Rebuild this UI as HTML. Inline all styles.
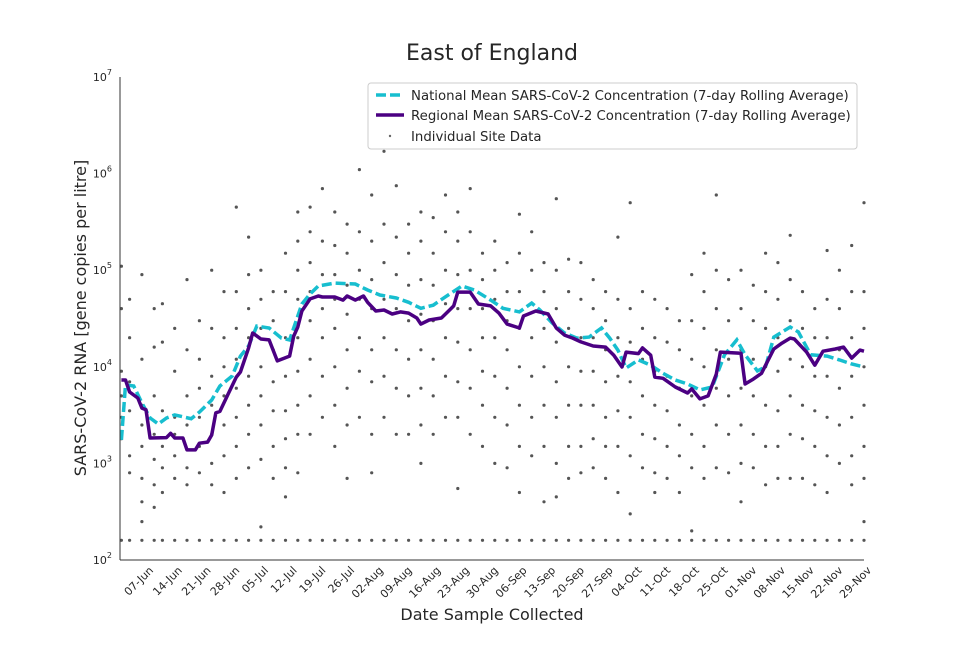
<!DOCTYPE html>
<html><head><meta charset="utf-8"><style>
body{margin:0;background:#fff;font-family:"Liberation Sans","DejaVu Sans",sans-serif}
svg text{font-family:"DejaVu Sans","Liberation Sans",sans-serif;fill:#262626}
</style></head><body>
<svg id="chart" width="960" height="640" viewBox="0 0 960 640" xmlns="http://www.w3.org/2000/svg">
<text x="492" y="60" text-anchor="middle" font-size="22">East of England</text>
<g id="scatter"></g>
<g id="lines"></g>
<g id="axes"></g>
<text transform="translate(86,318) rotate(-90)" text-anchor="middle" font-size="16">SARS-CoV-2 RNA [gene copies per litre]</text>
<text x="492" y="620" text-anchor="middle" font-size="16">Date Sample Collected</text>
<g>
<rect x="368" y="83" width="489" height="66" rx="3" fill="#fff" fill-opacity="0.85" stroke="#ccc"/>
<g><line x1="376" y1="95" x2="404" y2="95" stroke="#17becf" stroke-width="3.5" stroke-dasharray="10,4"/><text x="411" y="100" font-size="13.3">National Mean SARS-CoV-2 Concentration (7-day Rolling Average)</text></g>
<g><line x1="376" y1="115" x2="404" y2="115" stroke="#4b0082" stroke-width="3.5"/><text x="411" y="120" font-size="13.3">Regional Mean SARS-CoV-2 Concentration (7-day Rolling Average)</text></g>
<g><circle cx="390" cy="136" r="1.2" fill="#666"/><text x="411" y="141" font-size="13.3">Individual Site Data</text></g>
</g>
</svg>
<script>
const tickLabels = ["07-Jun","14-Jun","21-Jun","28-Jun","05-Jul","12-Jul","19-Jul","26-Jul","02-Aug","09-Aug","16-Aug","23-Aug","30-Aug","06-Sep","13-Sep","20-Sep","27-Sep","04-Oct","11-Oct","18-Oct","25-Oct","01-Nov","08-Nov","15-Nov","22-Nov","29-Nov"];
const tickDays = [6,13,20,27,34,41,48,55,62,69,76,83,90,97,104,111,118,125,132,139,146,153,160,167,174,181];
const yTickExps = [2,3,4,5,6,7];
const regionalDays = [0,1,2,4,5,6,7,11,12,13,15,16,18,19,21,22,23,24,26,28,29,31,32,34,36,38,41,42,43,44,46,48,49,52,54,55,57,59,60,62,64,66,68,70,72,73,75,78,80,81,82,85,87,90,92,94,97,98,101,104,106,108,110,112,115,118,120,122,123,126,127,129,130,132,135,138,139,141,143,145,146,151,152,154,156,159,161,163,164,167,169,171,174,176,178,180,181];
const regionalValues = [7300,7300,5480,4750,3740,3600,1830,1850,2050,1830,1830,1380,1380,1620,1660,1970,3330,3450,5220,7830,8830,15700,22400,19400,19000,11500,12900,20800,25800,37800,50400,54100,52800,52800,49000,54100,49000,54100,46500,37800,38700,35200,37000,36000,32000,27700,30500,32000,38700,42700,59400,59400,44700,42700,36000,27700,25200,33600,37800,35200,25200,21300,19800,18100,16400,16000,13200,9950,14200,13700,15700,13200,7830,7600,6180,5360,5900,4650,5000,8410,14200,13800,6640,7450,8560,15300,17600,19800,19400,14200,10400,14500,15300,16000,12300,14900,14500];
const nationalDays = [0,1,3,5,7,9,11,13,15,17,19,22,24,27,29,31,33,36,39,41,44,46,48,52,57,60,63,67,70,73,76,79,83,86,90,93,97,100,102,105,108,111,114,117,119,121,123,126,129,132,135,138,141,144,147,150,152,155,157,159,163,165,168,172,175,178,181];
const nationalValues = [1750,6490,6330,4220,2950,2560,2950,3180,3040,2900,3400,4530,6330,8030,12900,16400,26400,25200,19800,19000,44700,56700,68600,73600,72000,62400,55400,51600,46500,40300,43400,53000,68600,62400,49000,40300,37000,45700,38700,28400,22400,19800,20300,25200,19800,14900,9720,11800,10400,8560,7300,6640,5770,6180,13300,19000,13300,9060,10000,20300,25800,22900,13300,12900,11800,10700,9950];
const siteDays = [0,2,5,8,10,13,16,19,22,25,28,31,34,37,40,43,46,49,52,55,58,61,64,67,70,73,76,79,82,85,88,91,94,97,100,103,106,109,112,115,118,121,124,127,130,133,136,139,142,145,148,151,154,157,160,163,166,169,172,175,178,181];
const siteValues = [
[110000,40000,9000,5000,3000,1800,160],[50000,20000,7000,3500,1200,800,160],[90000,12000,4000,2500,1500,700,400,250,160],[40000,16000,5000,2000,1100,600,350,160],[45000,18000,3500,1500,900,500,160],[25000,9000,3000,2000,1200,700,160],[80000,15000,5000,2500,1400,900,600,160],[30000,12000,6000,3000,1500,800,160],[100000,25000,8000,4000,2000,1000,600,160],[60000,20000,10000,5000,2500,1200,500,160],
[450000,60000,25000,12000,6000,3000,1500,700,160],[220000,90000,40000,20000,8000,4000,2000,900,160],[100000,50000,25000,10000,5000,2500,1100,220,160],[60000,30000,15000,7000,3500,1500,700,160],[150000,60000,20000,8000,3500,1800,900,450,160],[400000,200000,100000,50000,20000,9000,4000,2000,800,160],[450000,250000,120000,60000,30000,12000,5000,2000,160],[700000,200000,90000,40000,20000,8000,3000,160],[400000,180000,90000,50000,25000,10000,4000,1500,160],[300000,150000,70000,35000,15000,6000,2500,700,160],
[1100000,250000,100000,50000,20000,9000,3000,160],[600000,200000,80000,40000,15000,7000,2000,800,160],[1700000,300000,120000,50000,20000,8000,3000,160],[750000,220000,90000,40000,15000,6000,2000,160],[300000,150000,70000,30000,12000,5000,2000,160],[400000,200000,80000,35000,15000,6000,2500,1000,160],[350000,150000,70000,30000,12000,5000,2000,160],[600000,250000,100000,45000,20000,8000,3000,160],[400000,200000,90000,40000,18000,7000,3000,550,160],[700000,250000,100000,40000,15000,6000,2000,160],
[150000,80000,40000,20000,9000,4000,1500,160],[200000,100000,50000,20000,8000,3000,1000,160],[120000,60000,30000,15000,6000,2500,900,160],[380000,150000,60000,25000,10000,4000,1500,500,160],[250000,100000,45000,20000,8000,3000,1200,160],[120000,60000,25000,10000,4000,1500,400,160],[550000,100000,40000,18000,7000,3000,1000,450,160],[130000,60000,25000,10000,4000,1500,700,160],[120000,50000,20000,9000,4000,1500,800,160],[80000,40000,20000,9000,4000,1800,900,160],
[60000,30000,15000,7000,3000,1500,700,160],[220000,50000,20000,8000,3500,1500,500,160],[500000,40000,18000,7000,3000,1200,300,160],[60000,25000,12000,5000,2000,900,160],[50000,20000,9000,4000,1800,800,500,160],[40000,18000,8000,3500,1500,700,160],[30000,15000,6000,2500,1200,500,160],[90000,30000,12000,5000,2000,900,200,160],[150000,60000,25000,10000,4000,1500,700,160],[600000,100000,40000,15000,6000,2500,900,160],
[80000,30000,12000,5000,2000,800,160],[100000,40000,15000,6000,2500,1000,400,160],[70000,30000,12000,5000,2000,900,160],[150000,60000,25000,10000,4000,1500,600,160],[120000,50000,20000,9000,3500,1500,700,160],[230000,80000,30000,12000,5000,2000,700,160],[60000,25000,10000,4000,1800,700,160],[40000,20000,8000,3500,1500,600,160],[160000,50000,20000,8000,3000,1200,500,160],[100000,40000,15000,6000,2500,1000,160],
[180000,60000,20000,8000,3000,1200,600,160],[500000,60000,25000,10000,4000,1500,700,250,160]];

const NS="http://www.w3.org/2000/svg";
const X0=121.4, PXD=4.103, YB=560, DEC=96.6, XL=120, XR=864;
function xS(d){return X0+d*PXD;}
function yS(v){return YB-(Math.log10(v)-2)*DEC;}
function mk(tag,attrs,parent){const e=document.createElementNS(NS,tag);for(const k in attrs)e.setAttribute(k,attrs[k]);parent.appendChild(e);return e;}

const sc=document.getElementById('scatter');
siteDays.forEach((d,i)=>{siteValues[i].forEach((v,j)=>{
  const c=mk('circle',{cx:xS(d).toFixed(1),cy:yS(v).toFixed(1),r:1.6,fill:'#555'},sc);
  
  
});});

const lg=document.getElementById('lines');
function path(days,vals){return days.map((d,i)=>(i?'L':'M')+xS(d).toFixed(1)+','+yS(vals[i]).toFixed(1)).join(' ');}
const nat=mk('path',{d:path(nationalDays,nationalValues),fill:'none',stroke:'#17becf',"stroke-width":3.5,"stroke-dasharray":"10,4"},lg);


const reg=mk('path',{d:path(regionalDays,regionalValues),fill:'none',stroke:'#4b0082',"stroke-width":3.5,"stroke-linejoin":"round"},lg);



const ax=document.getElementById('axes');
const yl=mk('line',{x1:XL,y1:77,x2:XL,y2:YB,stroke:'#333',"stroke-width":1},ax);


const xl=mk('line',{x1:XL,y1:YB,x2:XR,y2:YB,stroke:'#333',"stroke-width":1},ax);


yTickExps.forEach(e=>{
  const t=mk('text',{x:112,y:(YB-(e-2)*DEC+4).toFixed(1),"text-anchor":"end","font-size":11},ax);
  
  
  t.appendChild(document.createTextNode('10'));
  const s=mk('tspan',{dy:-6,"font-size":8},t);s.textContent=e;
});
tickDays.forEach((d,i)=>{
  const x=xS(d);
  const t=mk('text',{transform:`translate(${(x+8).toFixed(1)},${YB+11}) rotate(-45)`,"text-anchor":"end","font-size":11},ax);
  
  
  t.textContent=tickLabels[i];
});
</script>
</body></html>
